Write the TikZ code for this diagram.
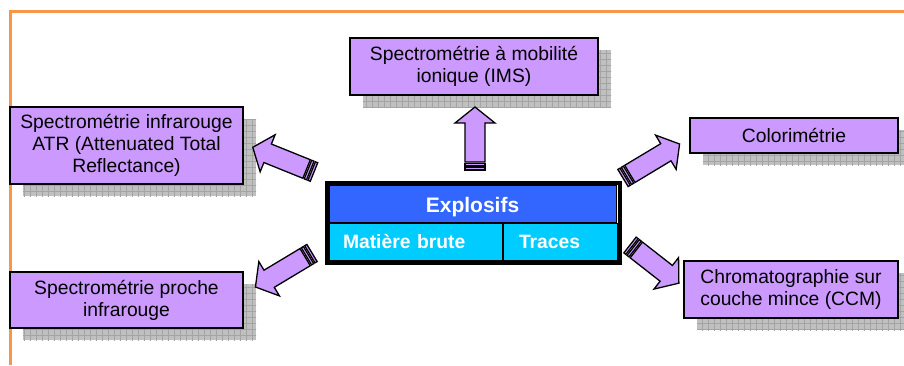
\documentclass[tikz,border=0pt]{standalone}
\usepackage{fontspec}
\setmainfont{Liberation Sans}
\usetikzlibrary{patterns.meta}

% Colors
\definecolor{boxpurple}{HTML}{CC99FF}
\definecolor{explblue}{HTML}{3366FF}
\definecolor{explcyan}{HTML}{00CCFF}
\definecolor{frameorange}{HTML}{F79646}
\definecolor{shadowgray}{HTML}{C0C0C0}
\definecolor{gridgray}{HTML}{A4A4A4}

\newcommand\boxfont{\fontsize{19.3}{22}\selectfont}

\tikzset{
    block arrow/.style={fill=boxpurple, draw=black, line width=1.3pt, line join=miter},
    grid shadow/.style={
        preaction={fill=shadowgray, transform canvas={shift={(13pt,-12pt)}}},
        preaction={pattern={Hatch[angle=0,distance=6pt,line width=0.4pt]},
                   pattern color=gridgray, transform canvas={shift={(13pt,-12pt)}}}},
    method/.style={rectangle, draw=black, line width=1.4pt, fill=boxpurple,
        grid shadow, align=center, inner sep=0pt, font=\boxfont},
    cell/.style={rectangle, draw=black, line width=1pt, inner sep=0pt,
        text=white, font=\boxfont\bfseries}
}

% Striped block arrow: tail, angle, length
\newcommand\stripedarrow[3]{%
  \begin{scope}[shift={(#1)}, rotate=#2]
    \draw[block arrow] (0,-10) rectangle (2.5,10);
    \draw[block arrow] (4,-10) rectangle (6.5,10);
    \draw[block arrow] (8,-10) -- ({#3-16},-10) -- ({#3-16},-20) -- (#3,0)
        -- ({#3-16},20) -- ({#3-16},10) -- (8,10) -- cycle;
  \end{scope}}

\begin{document}
\begin{tikzpicture}[x=1pt,y=-1pt]
  \useasboundingbox (0,0) rectangle (904,365);

  % Frame
    \draw[frameorange, line width=3pt] (904,11) -- (10,11) -- (10,365);

  % Methods
    \node[method, minimum width=248pt, minimum height=57pt] (ims) at (474,66.5)
      {Spectrométrie à mobilité\\ionique (IMS)};
    \node[method, minimum width=233pt, minimum height=77pt] (atr) at (126.5,145.5)
      {Spectrométrie infrarouge\\ATR (Attenuated Total\\Reflectance)};
    \node[method, minimum width=208pt, minimum height=35pt] (colori) at (794,135.5)
      {Colorimétrie};
    \node[method, minimum width=233pt, minimum height=56pt] (proche) at (126.5,300)
      {Spectrométrie proche\\infrarouge};
    \node[method, minimum width=214pt, minimum height=57pt] (ccm) at (791,289.5)
      {Chromatographie sur\\couche mince (CCM)};

  % Explosifs table
    \node[cell, fill=explblue, minimum width=287pt, minimum height=37pt,
      text height=17pt, text depth=0pt,
      font=\fontsize{21}{24}\selectfont\bfseries] (explosifs) at (472.5,203.5) {Explosifs};
    \node[cell, fill=explcyan, minimum height=37pt, inner xsep=14pt, text width=145pt,
      align=left, anchor=north west] (brute) at (explosifs.south west) {Matière brute};
    \node[cell, fill=explcyan, minimum height=37pt, inner xsep=16pt, text width=82pt,
      align=left, anchor=north west] (traces) at (brute.north east) {Traces};
    \draw[line width=4pt] ([shift={(-2,-2)}]explosifs.north west)
      rectangle ([shift={(2,2)}]traces.south east);

  % Arrows
    \coordinate (up tail) at (475,170);
    \coordinate (atr tail) at (314,172);
    \coordinate (proche tail) at (312,253);
    \coordinate (colori tail) at (623,178);
    \coordinate (ccm tail) at (630,245);
    \stripedarrow{up tail}{90}{63}
    \stripedarrow{atr tail}{158}{66}
    \stripedarrow{proche tail}{211}{66}
    \stripedarrow{colori tail}{31}{66}
    \stripedarrow{ccm tail}{-38}{62}
\end{tikzpicture}
\end{document}
